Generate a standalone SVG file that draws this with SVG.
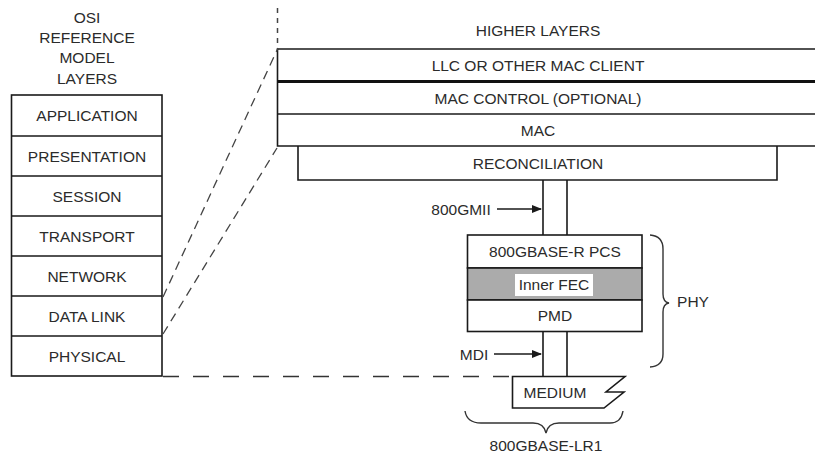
<svg xmlns="http://www.w3.org/2000/svg" width="815" height="457" viewBox="0 0 815 457">
<defs>
<style>
text{font-family:"Liberation Sans",Arial,sans-serif;font-size:15.5px;fill:#2b2b2b;text-anchor:middle}
.ln{stroke:#1a1a1a;stroke-width:1.6;fill:none}
.box{stroke:#1a1a1a;stroke-width:1.6;fill:#fff}
.dd{stroke:#444;stroke-width:1.3;fill:none;stroke-dasharray:9 6}
.dh{stroke:#333;stroke-width:1.6;fill:none;stroke-dasharray:16 14}
.br{stroke:#333;stroke-width:1.4;fill:none}
</style>
<marker id="ah" markerWidth="10" markerHeight="10" refX="9" refY="5" orient="auto" markerUnits="userSpaceOnUse">
<path d="M0,1 L10,5 L0,9 Z" fill="#1a1a1a"/>
</marker>
</defs>
<rect width="815" height="457" fill="#fff"/>

<g id="osi-title">
<text x="87" y="23">OSI</text>
<text x="87" y="43">REFERENCE</text>
<text x="87" y="63">MODEL</text>
<text x="87" y="84">LAYERS</text>
</g>

<g id="osi-stack">
<rect class="box" x="11.5" y="95" width="150.5" height="281"/>
<path class="ln" d="M11.5,136H162M11.5,176H162M11.5,216H162M11.5,256H162M11.5,296H162M11.5,336H162"/>
<text x="87" y="121">APPLICATION</text>
<text x="87" y="162">PRESENTATION</text>
<text x="87" y="202">SESSION</text>
<text x="87" y="242">TRANSPORT</text>
<text x="87" y="282">NETWORK</text>
<text x="87" y="322">DATA LINK</text>
<text x="87" y="362">PHYSICAL</text>
</g>

<g id="higher-layers">
<text x="538" y="36">HIGHER LAYERS</text>
</g>

<g id="llc">
<path class="ln" d="M815,49H277.5V146H815"/>
<text x="538" y="71">LLC OR OTHER MAC CLIENT</text>
</g>
<g id="mac-control">
<path d="M277.5,81.5H815" stroke="#111" stroke-width="3" fill="none"/>
<text x="538" y="104">MAC CONTROL (OPTIONAL)</text>
</g>
<g id="mac">
<path class="ln" d="M277.5,114H815"/>
<text x="538" y="136">MAC</text>
</g>
<g id="reconciliation">
<path class="ln" d="M298,146V180H777V146"/>
<text x="538" y="169">RECONCILIATION</text>
</g>

<g id="pcs">
<rect class="box" x="467.5" y="235" width="174.5" height="33"/>
<text x="555" y="257">800GBASE-R PCS</text>
</g>
<g id="inner-fec">
<rect x="467.5" y="268" width="174.5" height="32" fill="#ababab" stroke="#1a1a1a" stroke-width="1.6"/>
<rect x="515" y="274" width="78" height="22" fill="#fff"/>
<text x="554" y="290">Inner FEC</text>
</g>
<g id="pmd">
<rect class="box" x="467.5" y="300" width="174.5" height="31.5"/>
<text x="555" y="321">PMD</text>
</g>

<g id="medium">
<path class="ln" d="M512.5,376.5H625L606,392H624L604,408H512.5Z" fill="#fff"/>
<text x="555" y="398">MEDIUM</text>
</g>

<g id="phy">
<path class="br" d="M650,235Q663,236 663,249V294Q663,302 669,303Q663,304 663,312V354Q663,366 650,367"/>
<text x="693" y="307">PHY</text>
</g>

<g id="lr1">
<path class="br" d="M465,411Q467,423 481,423H533Q544,423 546,433Q548,423 559,423H610Q621,423 623,411"/>
<text x="546" y="451">800GBASE-LR1</text>
</g>

<g id="connectors">
<path class="dd" d="M163,297L278,48"/>
<path class="dd" d="M163,334L277,148"/>
<path d="M277.5,8V48" stroke="#444" stroke-width="1.5" fill="none" stroke-dasharray="5 5"/>
<path class="dh" d="M163,376.5H512"/>
<path class="ln" d="M543,180V235M567,180V235"/>
<path class="ln" d="M543,331.5V376.5M567,331.5V376.5"/>
<text x="461" y="215">800GMII</text>
<path class="ln" d="M497,209H541" marker-end="url(#ah)"/>
<text x="474" y="360">MDI</text>
<path class="ln" d="M494,354H541" marker-end="url(#ah)"/>
</g>
</svg>
